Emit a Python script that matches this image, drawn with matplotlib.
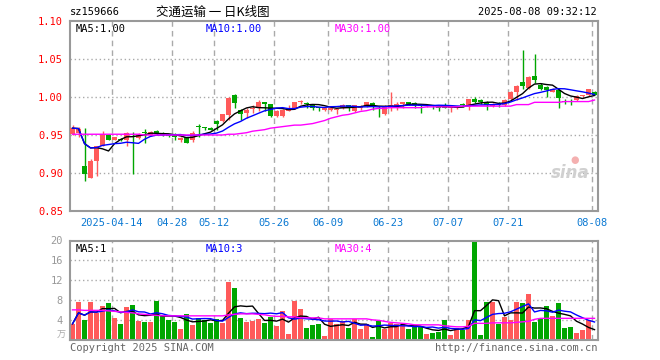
import numpy as np
import pandas as pd
import matplotlib
matplotlib.use("Agg")
from matplotlib import pyplot as plt

# daily candles, 2025-04-02 .. 2025-08-08
opens = [0.951, 0.952, 0.909, 0.894, 0.916, 0.935, 0.950, 0.944, 0.945, 0.943,
         0.953, 0.946, 0.954, 0.950, 0.955, 0.953, 0.950, 0.951, 0.943, 0.947,
         0.943, 0.961, 0.960, 0.959, 0.969, 0.968, 0.976, 1.003, 0.983, 0.979,
         0.984, 0.986, 0.993, 0.991, 0.975, 0.975, 0.982, 0.985, 0.994, 0.992,
         0.989, 0.986, 0.983, 0.983, 0.983, 0.985, 0.989, 0.981, 0.985, 0.988,
         0.992, 0.982, 0.977, 0.986, 0.986, 0.991, 0.993, 0.992, 0.989, 0.988,
         0.989, 0.987, 0.987, 0.985, 0.985, 0.991, 0.987, 0.998, 0.996, 0.994,
         0.988, 0.990, 0.989, 0.997, 1.007, 1.020, 1.012, 1.028, 1.016, 1.013,
         1.007, 1.009, 0.995, 0.995, 0.996, 1.001, 1.002, 1.006]
closes = [0.959, 0.958, 0.899, 0.916, 0.935, 0.951, 0.944, 0.947, 0.943, 0.953,
          0.952, 0.950, 0.953, 0.954, 0.952, 0.950, 0.949, 0.947, 0.946, 0.940,
          0.953, 0.960, 0.959, 0.957, 0.964, 0.977, 0.999, 0.992, 0.977, 0.983,
          0.985, 0.993, 0.991, 0.975, 0.982, 0.983, 0.986, 0.993, 0.995, 0.991,
          0.986, 0.985, 0.986, 0.985, 0.984, 0.989, 0.986, 0.989, 0.988, 0.993,
          0.989, 0.981, 0.988, 0.989, 0.991, 0.993, 0.991, 0.989, 0.988, 0.989,
          0.988, 0.986, 0.986, 0.986, 0.986, 0.990, 0.997, 0.994, 0.994, 0.990,
          0.991, 0.989, 0.996, 1.007, 1.015, 1.015, 1.026, 1.022, 1.010, 1.009,
          1.011, 0.999, 0.994, 0.994, 1.001, 1.002, 1.010, 1.003]
highs = [0.963, 0.960, 0.959, 0.918, 0.936, 0.955, 0.951, 0.948, 0.946, 0.954,
         0.954, 0.952, 0.958, 0.955, 0.956, 0.954, 0.951, 0.952, 0.947, 0.948,
         0.955, 0.965, 0.961, 0.960, 0.970, 0.978, 1.000, 1.004, 0.984, 0.986,
         0.989, 0.996, 0.993, 0.991, 0.983, 0.984, 0.989, 0.994, 0.996, 0.994,
         0.990, 0.987, 0.987, 0.986, 0.985, 0.991, 0.990, 0.990, 0.989, 0.994,
         0.993, 0.988, 0.989, 1.007, 0.993, 0.993, 0.994, 0.993, 0.990, 0.990,
         0.990, 0.988, 0.992, 0.987, 0.988, 0.992, 0.998, 1.000, 0.997, 0.995,
         0.992, 0.993, 0.997, 1.008, 1.016, 1.062, 1.027, 1.056, 1.018, 1.014,
         1.012, 1.010, 0.998, 0.997, 1.002, 1.003, 1.011, 1.008]
lows = [0.950, 0.947, 0.889, 0.893, 0.896, 0.935, 0.943, 0.943, 0.942, 0.936,
        0.899, 0.945, 0.940, 0.949, 0.950, 0.949, 0.947, 0.944, 0.941, 0.939,
        0.941, 0.947, 0.957, 0.956, 0.957, 0.967, 0.970, 0.985, 0.970, 0.972,
        0.979, 0.981, 0.981, 0.974, 0.974, 0.974, 0.981, 0.984, 0.991, 0.985,
        0.983, 0.982, 0.981, 0.982, 0.977, 0.984, 0.981, 0.980, 0.983, 0.987,
        0.983, 0.974, 0.976, 0.981, 0.983, 0.985, 0.990, 0.985, 0.979, 0.987,
        0.984, 0.982, 0.985, 0.980, 0.984, 0.987, 0.983, 0.992, 0.991, 0.983,
        0.987, 0.987, 0.988, 0.996, 0.996, 1.010, 1.011, 1.018, 1.009, 1.000,
        1.006, 0.986, 0.991, 0.989, 0.995, 1.000, 1.001, 1.002]
ma30_price = [0.951] * 12 + [0.950] * 14 + [
    0.951, 0.951, 0.952, 0.953, 0.955, 0.956, 0.957, 0.959, 0.960, 0.961,
    0.962, 0.963, 0.963, 0.964, 0.965, 0.967, 0.969, 0.972, 0.974, 0.976,
    0.977, 0.979, 0.981, 0.982, 0.984, 0.985, 0.985] + [0.986] * 6 + [0.987] * 6 + \
    [0.988] * 9 + [0.990] * 3 + [0.993] * 5 + [0.994] * 5 + [0.996]

# volume in 万
volumes = [3.3, 7.7, 4.1, 7.7, 5.4, 6.9, 7.5, 4.5, 3.3, 6.7,
           7.1, 3.9, 3.7, 3.7, 7.9, 4.9, 4.1, 3.7, 2.3, 5.3,
           3.1, 4.5, 4.1, 3.5, 4.3, 3.5, 11.7, 10.5, 4.5, 3.7,
           3.9, 4.3, 3.5, 4.6, 2.9, 5.9, 1.3, 7.9, 6.3, 2.5,
           3.1, 3.3, 0.9, 4.2, 3.3, 3.9, 2.5, 4.2, 2.3, 3.2,
           0.7, 3.9, 2.3, 3.5, 3.3, 3.1, 2.3, 2.7, 2.7, 1.3,
           1.5, 1.7, 4.1, 1.1, 2.5, 2.1, 4.1, 19.9, 1.1, 7.7,
           7.7, 3.3, 4.7, 4.1, 7.7, 7.5, 9.3, 3.7, 4.2, 6.9,
           4.9, 7.5, 2.5, 2.7, 1.5, 2.1, 4.1, 0.3]
ma30_vol = [6.1, 6.1, 6.0, 6.0, 6.0, 6.0, 5.9, 5.8, 5.7, 5.6,
            5.5, 5.3, 5.2, 5.1, 5.0] + [4.9] * 11 + [
            5.1, 5.2, 5.3, 5.3, 5.3, 5.2, 5.1, 4.9, 4.8, 4.8,
            4.7, 4.7] + [4.5] * 4 + [4.3] * 8 + [
            4.1, 4.0, 3.8, 3.6, 3.5, 3.4, 3.3] + [3.1] * 5 + [
            2.9, 2.8, 2.7, 2.7, 2.8, 3.4, 3.4, 3.4, 3.5, 3.5,
            3.5, 3.5, 3.6, 3.7, 3.8, 4.2] + [4.4] * 10

date_pos = [7, 17, 24, 34, 43, 53, 63, 73, 87]
date_labels = ["2025-04-14", "04-28", "05-12", "05-26", "06-09",
               "06-23", "07-07", "07-21", "08-08"]

RED = "#ff5a5a"
GREEN = "#00a600"
GRID = "#aaaaaa"
MONO = "DejaVu Sans Mono"

o = np.array(opens)
c = np.array(closes)
x = np.arange(len(o))
up = c >= o
colors = np.where(up, RED, GREEN)
ma5 = pd.Series(closes).rolling(5, min_periods=1).mean()
ma10 = pd.Series(closes).rolling(10, min_periods=1).mean()
vma5 = pd.Series(volumes).rolling(5, min_periods=1).mean()
vma10 = pd.Series(volumes).rolling(10, min_periods=1).mean()

fig = plt.figure(figsize=(6.6, 3.6), dpi=100)
ax = fig.add_axes([70 / 660, 1 - 211 / 360, 528 / 660, 190 / 360])
axv = fig.add_axes([70 / 660, 1 - 340.3 / 360, 528 / 660, 99.8 / 360])

xlim = (-0.42, 87.58)
grid_x = [p - 0.45 for p in date_pos]

# price panel
ax.set_xlim(*xlim)
ax.set_ylim(0.85, 1.10)
for yv in [0.90, 0.95, 1.00, 1.05]:
    ax.axhline(yv, color=GRID, lw=1, ls=(0, (1, 2)), zorder=0)
for gx in grid_x:
    ax.axvline(gx, color=GRID, lw=1, ls=(0, (4, 3)), zorder=0)
ax.vlines(x, lows, highs, colors=colors, lw=1, zorder=2)
body = np.maximum(np.abs(c - o), 0.0012)
ax.bar(x, body, bottom=np.minimum(o, c), width=0.8, color=colors, zorder=3)
ax.plot(x, ma5, color="black", lw=1, zorder=4)
ax.plot(x, ma10, color="#0000ff", lw=1, zorder=4)
ax.plot(x, ma30_price, color="#ff00ff", lw=1, zorder=4)

ax.set_yticks([0.85, 0.90, 0.95, 1.00, 1.05, 1.10])
ax.set_yticklabels(["0.85", "0.90", "0.95", "1.00", "1.05", "1.10"],
                   color="#ff0000", family=MONO, fontsize=7.5)
ax.set_xticks(grid_x)
ax.set_xticklabels(date_labels, color="#0a78d2", family=MONO, fontsize=7.5)
ax.tick_params(length=0, pad=5)

ax.text(0.01, 0.985, "MA5:1.00", transform=ax.transAxes, va="top",
        family=MONO, fontsize=7.5, color="black")
ax.text(0.256, 0.985, "MA10:1.00", transform=ax.transAxes, va="top",
        family=MONO, fontsize=7.5, color="#0000ff")
ax.text(0.502, 0.985, "MA30:1.00", transform=ax.transAxes, va="top",
        family=MONO, fontsize=7.5, color="#ff00ff")
ax.text(0.985, 0.2, "sina", transform=ax.transAxes, ha="right", va="center",
        fontsize=12, fontweight="bold", style="italic", color="#d0d0d0",
        family="DejaVu Sans")
ax.text(0.955, 0.27, "●", transform=ax.transAxes, ha="center", va="center",
        fontsize=7, color="#f4b0b0", family="DejaVu Sans")

# volume panel
axv.set_xlim(*xlim)
axv.set_ylim(0, 20)
for yv in [4, 8, 12, 16]:
    axv.axhline(yv, color=GRID, lw=1, ls=(0, (1, 2)), zorder=0)
for gx in grid_x:
    axv.axvline(gx, color=GRID, lw=1, ls=(0, (4, 3)), zorder=0)
axv.bar(x, volumes, width=0.8, color=colors, zorder=2)
axv.plot(x, vma5, color="black", lw=1, zorder=3)
axv.plot(x, vma10, color="#0000ff", lw=1, zorder=3)
axv.plot(x, ma30_vol, color="#ff00ff", lw=1, zorder=3)
axv.set_yticks([4, 8, 12, 16, 20])
axv.set_yticklabels(["4", "8", "12", "16", "20"], color="#999999",
                    family=MONO, fontsize=7.5)
axv.set_xticks([])
axv.tick_params(length=0, pad=5)
axv.text(0.01, 0.965, "MA5:1", transform=axv.transAxes, va="top",
         family=MONO, fontsize=7.5, color="black")
axv.text(0.256, 0.965, "MA10:3", transform=axv.transAxes, va="top",
         family=MONO, fontsize=7.5, color="#0000ff")
axv.text(0.502, 0.965, "MA30:4", transform=axv.transAxes, va="top",
         family=MONO, fontsize=7.5, color="#ff00ff")

for a in (ax, axv):
    for s in a.spines.values():
        s.set_color("#999999")
        s.set_linewidth(1.5)

# header / footer texts
fig.text(70 / 660, 1 - 12 / 360, "sz159666", family=MONO, fontsize=7.5,
         va="center", ha="left")
fig.text(213 / 660, 1 - 12 / 360, "交通运输 一 日K线图",
         family=["Noto Sans CJK SC", "DejaVu Sans"], fontsize=9,
         va="center", ha="center")
fig.text(597 / 660, 1 - 12 / 360, "2025-08-08 09:32:12", family=MONO,
         fontsize=7.5, va="center", ha="right")
fig.text(66 / 660, 1 - 335 / 360, "万", family=["Noto Sans CJK SC", "DejaVu Sans"],
         fontsize=6.5, color="#aaaaaa", va="center", ha="right")
fig.text(70 / 660, 1 - 348 / 360, "Copyright 2025 SINA.COM", family=MONO,
         fontsize=7.5, color="#666666", va="center", ha="left")
fig.text(597 / 660, 1 - 348 / 360, "http://finance.sina.com.cn", family=MONO,
         fontsize=7.5, color="#666666", va="center", ha="right")

fig.savefig("out.png", dpi=100)
